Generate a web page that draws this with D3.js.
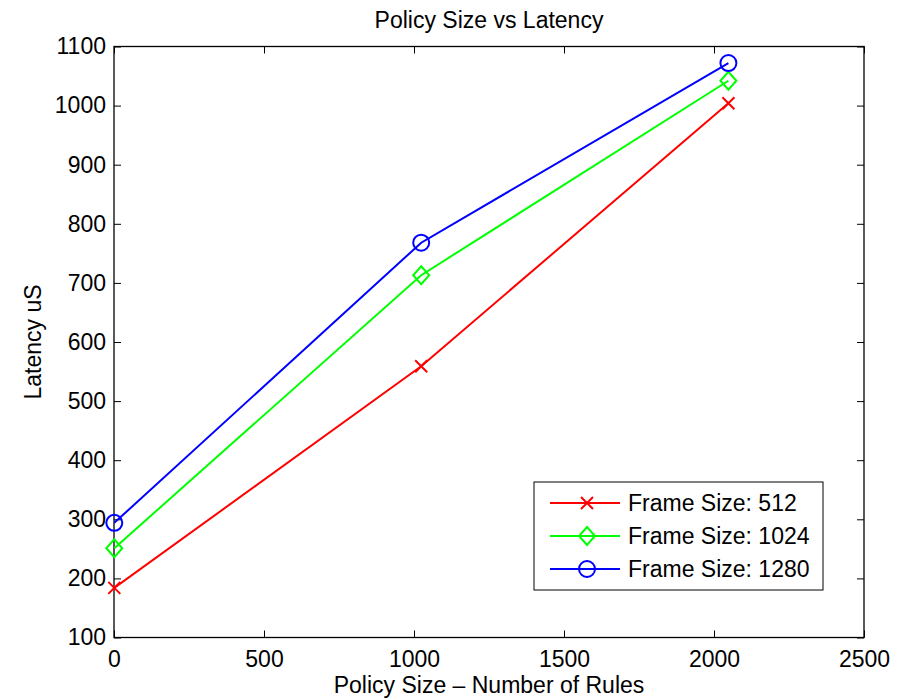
<!DOCTYPE html>
<html>
<head>
<meta charset="utf-8">
<script src="https://cdn.jsdelivr.net/npm/d3@7"></script>
<style>
  body { margin: 0; background: #fff; }
  text { font-family: "Liberation Sans", Arial, sans-serif; fill: #000; }
</style>
</head>
<body>
<script>
// Policy size vs latency, three frame sizes

const width = 909, height = 699;
const margin = {top: 46.5, right: 45, bottom: 61.5, left: 114};
const fontSize = "23px";

const policySizes = [1, 1024, 2048];
const latency512 = [184, 559, 1004];
const latency1024 = [251, 713, 1042];
const latency1280 = [294, 768, 1072];
const xTicks = [0, 500, 1000, 1500, 2000, 2500];
const yTicks = [100, 200, 300, 400, 500, 600, 700, 800, 900, 1000, 1100];

const series = [
  {name: "Frame Size: 512", values: latency512, color: "#ff0000", marker: "x"},
  {name: "Frame Size: 1024", values: latency1024, color: "#00ff00", marker: "diamond"},
  {name: "Frame Size: 1280", values: latency1280, color: "#0000ff", marker: "circle"}
];

const innerWidth = width - margin.left - margin.right;
const innerHeight = height - margin.top - margin.bottom;

const svg = d3.select("body").append("svg")
  .attr("width", width)
  .attr("height", height);

const g = svg.append("g")
  .attr("transform", "translate(" + margin.left + "," + margin.top + ")");

const x = d3.scaleLinear().domain([0, 2500]).range([0, innerWidth]);
const y = d3.scaleLinear().domain([100, 1100]).range([innerHeight, 0]);

// axes, ticks inward on all four sides
function styleAxis(sel) {
  sel.select(".domain").remove();
  sel.selectAll(".tick line").attr("stroke", "#000").attr("stroke-width", 1);
  sel.selectAll(".tick text").style("font-size", fontSize);
}

g.append("g")
  .attr("transform", "translate(0," + innerHeight + ")")
  .call(d3.axisBottom(x).tickValues(xTicks).tickFormat(d3.format("d")).tickSizeInner(-7).tickPadding(13))
  .call(styleAxis);
g.append("g")
  .call(d3.axisTop(x).tickValues(xTicks).tickSizeInner(-7).tickFormat(""))
  .call(styleAxis)
  .selectAll(".tick text").remove();
g.append("g")
  .call(d3.axisLeft(y).tickValues(yTicks).tickFormat(d3.format("d")).tickSizeInner(-7).tickPadding(8))
  .call(styleAxis);
g.append("g")
  .attr("transform", "translate(" + innerWidth + ",0)")
  .call(d3.axisRight(y).tickValues(yTicks).tickSizeInner(-7).tickFormat(""))
  .call(styleAxis)
  .selectAll(".tick text").remove();

g.append("rect")
  .attr("width", innerWidth)
  .attr("height", innerHeight)
  .attr("fill", "none")
  .attr("stroke", "#000")
  .attr("stroke-width", 1.3);

// markers
function drawMarker(sel, type, color) {
  if (type === "x") {
    sel.append("path").attr("d", "M-6,-6L6,6M-6,6L6,-6")
      .attr("stroke", color).attr("stroke-width", 2).attr("fill", "none");
  } else if (type === "diamond") {
    sel.append("path").attr("d", "M0,-9L8,0L0,9L-8,0Z")
      .attr("stroke", color).attr("stroke-width", 2).attr("fill", "none");
  } else {
    sel.append("circle").attr("r", 8)
      .attr("stroke", color).attr("stroke-width", 2).attr("fill", "none");
  }
}

const line = d3.line()
  .x((d, i) => x(policySizes[i]))
  .y(d => y(d));

series.forEach(s => {
  g.append("path")
    .datum(s.values)
    .attr("d", line)
    .attr("fill", "none")
    .attr("stroke", s.color)
    .attr("stroke-width", 2);
  s.values.forEach((v, i) => {
    const m = g.append("g").attr("transform", "translate(" + x(policySizes[i]) + "," + y(v) + ")");
    drawMarker(m, s.marker, s.color);
  });
});

// legend
const legend = svg.append("g").attr("transform", "translate(534,482)");
legend.append("rect")
  .attr("width", 289).attr("height", 108)
  .attr("fill", "#fff").attr("stroke", "#000").attr("stroke-width", 1);

series.forEach((s, i) => {
  const row = legend.append("g").attr("transform", "translate(0," + (21 + i * 33) + ")");
  row.append("line")
    .attr("x1", 16).attr("x2", 86)
    .attr("stroke", s.color).attr("stroke-width", 2);
  drawMarker(row.append("g").attr("transform", "translate(53,0)"), s.marker, s.color);
  row.append("text")
    .attr("x", 94).attr("dy", "0.35em")
    .style("font-size", fontSize)
    .text(s.name);
});

// titles
svg.append("text")
  .attr("x", margin.left + innerWidth / 2).attr("y", 27.5)
  .attr("text-anchor", "middle")
  .style("font-size", fontSize)
  .text("Policy Size vs Latency");

svg.append("text")
  .attr("x", margin.left + innerWidth / 2).attr("y", 693)
  .attr("text-anchor", "middle")
  .style("font-size", fontSize)
  .text("Policy Size \u2013 Number of Rules");

svg.append("text")
  .attr("transform", "translate(41," + (margin.top + innerHeight / 2) + ") rotate(-90)")
  .attr("text-anchor", "middle")
  .style("font-size", fontSize)
  .text("Latency uS");
</script>
</body>
</html>
